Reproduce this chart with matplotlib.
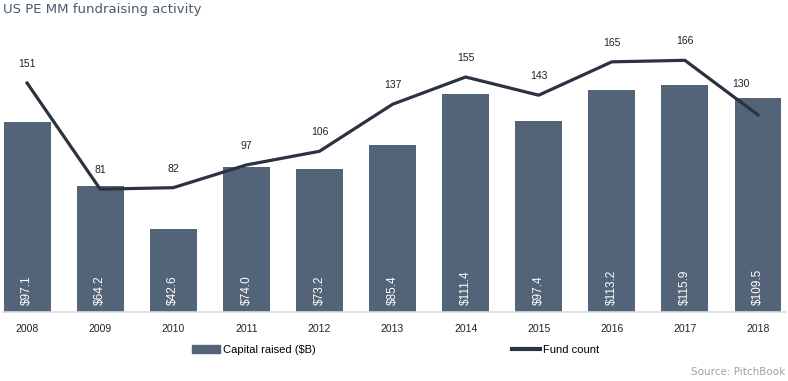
import matplotlib.pyplot as plt
from matplotlib.patches import Patch
from matplotlib.lines import Line2D

years = ["2008", "2009", "2010", "2011", "2012", "2013", "2014", "2015", "2016", "2017", "2018"]
capital = [97.1, 64.2, 42.6, 74.0, 73.2, 85.4, 111.4, 97.4, 113.2, 115.9, 109.5]
capital_labels = ["$97.1", "$64.2", "$42.6", "$74.0", "$73.2", "$85.4", "$111.4", "$97.4", "$113.2", "$115.9", "$109.5"]
fund_count = [151, 81, 82, 97, 106, 137, 155, 143, 165, 166, 130]

bar_color = "#536479"
line_color = "#2b3340"
plt.rcParams["font.family"] = ["Liberation Sans", "DejaVu Sans"]

fig = plt.figure(figsize=(7.88, 3.81), dpi=100)
ax = fig.add_axes([3 / 788, 69 / 381, 782 / 788, 282 / 381])
x = list(range(len(years)))

ax.bar(x, capital, width=0.64, color=bar_color, zorder=2)
ax.set_ylim(0, 144)
ax.set_xlim(-0.33, 10.37)
for xi, lab in zip(x, capital_labels):
    ax.text(xi, 3.6, lab, rotation=90, ha="center", va="bottom", color="white", fontsize=8.5, zorder=3)

ax.set_xticks(x)
ax.set_xticklabels(years, fontsize=7.5, color="#222222")
ax.tick_params(axis="x", length=0, pad=9)
ax.set_yticks([])
for s in ["top", "right", "left"]:
    ax.spines[s].set_visible(False)
ax.spines["bottom"].set_color("#d5dbe1")
ax.spines["bottom"].set_linewidth(1.2)

ax2 = ax.twinx()
ax2.plot(x, fund_count, color=line_color, linewidth=2.3, zorder=4)
ax2.set_ylim(0, 186)
ax2.set_yticks([])
for s in ["top", "right", "left", "bottom"]:
    ax2.spines[s].set_visible(False)
for xi, v in zip(x, fund_count):
    # last label sits up and to the left, clear of the 2018 bar
    off = (-12, 19) if xi == len(x) - 1 else (0, 10)
    ax2.annotate(str(v), (xi, v), xytext=off, textcoords="offset points",
                 ha="center", va="bottom", fontsize=7.5, color="#222222")

fig.text(3 / 788, 1 - 10 / 381, "US PE MM fundraising activity", fontsize=9.5,
         color="#4a5a6e", va="center", ha="left", family="DejaVu Sans")
fig.text(785 / 788, 1 - 372 / 381, "Source: PitchBook", fontsize=7.5,
         color="#9aa3ad", va="center", ha="right", family="DejaVu Sans")

fig.legend(handles=[Patch(color=bar_color, label="Capital raised ($B)")],
           loc="center left", bbox_to_anchor=(182 / 788, 1 - 350 / 381),
           frameon=False, fontsize=8, handlelength=2.5, handleheight=0.8,
           handletextpad=0.25)
fig.legend(handles=[Line2D([0], [0], color=line_color, linewidth=3, label="Fund count")],
           loc="center left", bbox_to_anchor=(502 / 788, 1 - 350 / 381),
           frameon=False, fontsize=8, handlelength=2.5, handletextpad=0.25)

fig.savefig("out.png", dpi=100)
